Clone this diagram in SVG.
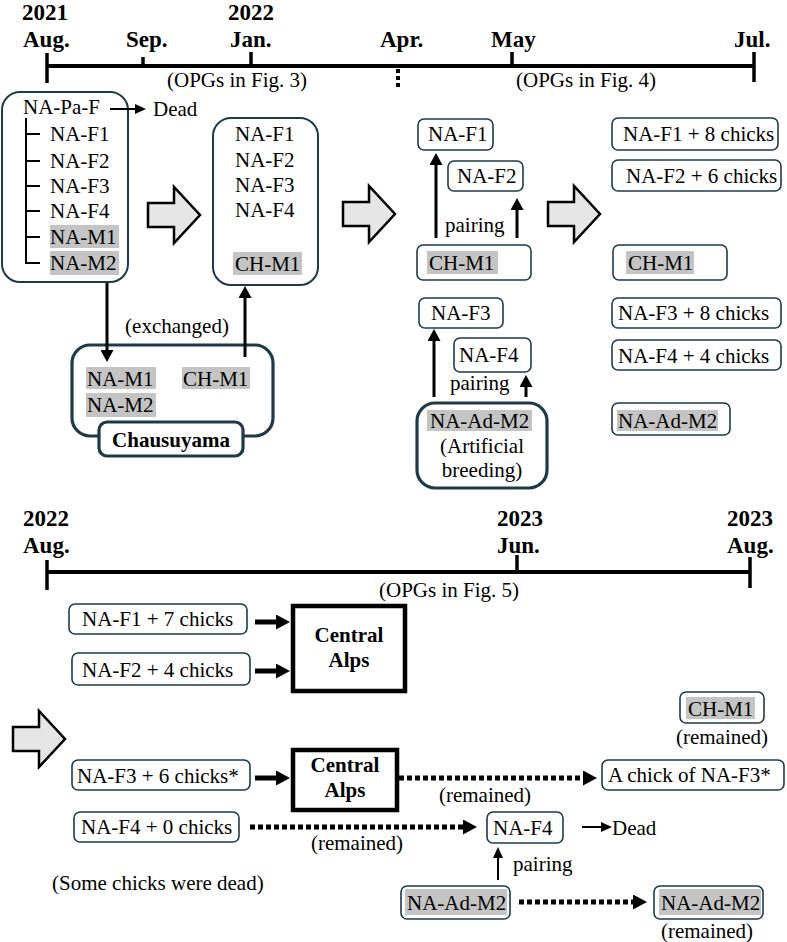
<svg xmlns="http://www.w3.org/2000/svg" width="787" height="942" viewBox="0 0 787 942" font-family="Liberation Serif, DejaVu Serif, serif">
<style>
text{font-family:'Liberation Serif','DejaVu Serif',serif}
.t{font-size:21px;fill:#000}
.b{font-weight:bold;font-size:23px;fill:#000}
.bb{font-weight:bold;font-size:21px;fill:#000}
.box{fill:#fff;stroke:#1e3a4a;stroke-width:1.6}
.big{fill:#fff;stroke:#1e3a4a;stroke-width:2}
.thick{fill:#fff;stroke:#1e3a4a;stroke-width:3.2}
.alps{fill:#fff;stroke:#000;stroke-width:4.5}
.hl{fill:#c4c4c4}
.tl{stroke:#000;stroke-width:4;fill:none}
.tk{stroke:#000;stroke-width:3.5;fill:none}
.c1{stroke:#000;stroke-width:2;fill:none}
.c2{stroke:#000;stroke-width:3;fill:none}
.c3{stroke:#000;stroke-width:5;fill:none}
.dot{stroke:#000;stroke-width:5;fill:none;stroke-dasharray:5 3}
.ba{fill:#e6e6e6;stroke:#000;stroke-width:2.5;stroke-linejoin:miter}
</style>
<defs>
<marker id="m1" markerUnits="userSpaceOnUse" markerWidth="11" markerHeight="11" viewBox="0 0 11 11" refX="2" refY="5.5" orient="auto"><path d="M0,0.5 L11,5.5 L0,10.5 Z" fill="#000"/></marker>
<marker id="m2" markerUnits="userSpaceOnUse" markerWidth="12" markerHeight="13" viewBox="0 0 12 13" refX="2" refY="6.5" orient="auto"><path d="M0,0 L12,6.5 L0,13 Z" fill="#000"/></marker>
<marker id="m3" markerUnits="userSpaceOnUse" markerWidth="14" markerHeight="15" viewBox="0 0 14 15" refX="2" refY="7.5" orient="auto"><path d="M0,0 L14,7.5 L0,15 Z" fill="#000"/></marker>
<path id="bigarrow" d="M0,16 H26 V0 L52,28 L26,56 V40 H0 Z"/>
</defs>

<g id="timeline-top">
<line class="tl" x1="47" y1="66" x2="754" y2="66"/>
<line class="tk" x1="47" y1="53" x2="47" y2="83"/>
<line class="tk" x1="143" y1="57" x2="143" y2="66"/>
<line class="tk" x1="251" y1="52" x2="251" y2="66"/>
<line class="tk" x1="512" y1="52" x2="512" y2="66"/>
<line class="tk" x1="754" y1="52" x2="754" y2="82"/>
<line x1="398" y1="69" x2="398" y2="88" stroke="#000" stroke-width="4" stroke-dasharray="4 3"/>
<text class="b" x="22" y="20">2021</text>
<text class="b" x="23" y="47">Aug.</text>
<text class="b" x="126" y="47">Sep.</text>
<text class="b" x="228" y="20">2022</text>
<text class="b" x="230" y="47">Jan.</text>
<text class="b" x="380" y="47">Apr.</text>
<text class="b" x="491" y="47">May</text>
<text class="b" x="734" y="47">Jul.</text>
<text class="t" x="237" y="87" text-anchor="middle">(OPGs in Fig. 3)</text>
<text class="t" x="586" y="87" text-anchor="middle">(OPGs in Fig. 4)</text>
</g>

<g id="box-founders">
<rect class="big" x="2" y="92" width="126" height="190" rx="18"/>
<text class="t" x="23" y="114">NA-Pa-F</text>
<path class="c1" d="M26,118 V263 H40 M26,134 H40 M26,161 H40 M26,186 H40 M26,211 H40 M26,237 H40"/>
<rect class="hl" x="50" y="225" width="69" height="23"/>
<rect class="hl" x="50" y="251" width="69" height="24"/>
<text class="t" x="50" y="141">NA-F1</text>
<text class="t" x="50" y="168">NA-F2</text>
<text class="t" x="50" y="193">NA-F3</text>
<text class="t" x="50" y="218">NA-F4</text>
<text class="t" x="50" y="244">NA-M1</text>
<text class="t" x="50" y="270">NA-M2</text>
</g>
<g id="dead-1"><text class="t" x="153" y="116">Dead</text></g>

<g id="box-jan">
<rect class="big" x="213" y="118" width="105" height="167" rx="18"/>
<rect class="hl" x="233" y="252" width="69" height="23"/>
<text class="t" x="235" y="141">NA-F1</text>
<text class="t" x="235" y="167">NA-F2</text>
<text class="t" x="235" y="192">NA-F3</text>
<text class="t" x="235" y="217">NA-F4</text>
<text class="t" x="235" y="271">CH-M1</text>
</g>

<g id="chausuyama">
<rect class="thick" x="72" y="345" width="201" height="91" rx="18"/>
<rect class="hl" x="86" y="367" width="70" height="22"/>
<rect class="hl" x="86" y="393" width="70" height="24"/>
<rect class="hl" x="182" y="367" width="68" height="22"/>
<text class="t" x="87" y="386">NA-M1</text>
<text class="t" x="87" y="412">NA-M2</text>
<text class="t" x="183" y="386">CH-M1</text>
<rect class="thick" x="99" y="422" width="144" height="34" rx="8"/>
<text class="bb" x="171" y="447" text-anchor="middle">Chausuyama</text>
</g>
<g id="lbl-exchanged"><text class="t" x="177" y="333" text-anchor="middle">(exchanged)</text></g>

<g id="mid-naf1"><rect class="box" x="418" y="119" width="75" height="31" rx="6"/><text class="t" x="428" y="141">NA-F1</text></g>
<g id="mid-naf2"><rect class="box" x="448" y="161" width="75" height="30" rx="6"/><text class="t" x="457" y="183">NA-F2</text></g>
<g id="mid-chm1"><rect class="box" x="417" y="245" width="114" height="35" rx="6"/><rect class="hl" x="427" y="251" width="71" height="23"/><text class="t" x="429" y="270">CH-M1</text></g>
<g id="lbl-pairing-1"><text class="t" x="445" y="232">pairing</text></g>
<g id="mid-naf3"><rect class="box" x="419" y="298" width="84" height="30" rx="6"/><text class="t" x="431" y="320">NA-F3</text></g>
<g id="mid-naf4"><rect class="box" x="454" y="338" width="77" height="34" rx="6"/><text class="t" x="459" y="362">NA-F4</text></g>
<g id="lbl-pairing-2"><text class="t" x="450" y="390">pairing</text></g>
<g id="mid-naadm2">
<rect class="thick" x="417" y="403" width="130" height="85" rx="18"/>
<rect class="hl" x="427" y="410" width="105" height="21"/>
<text class="t" x="430" y="428">NA-Ad-M2</text>
<text class="t" x="482" y="453" text-anchor="middle">(Artificial</text>
<text class="t" x="482" y="477" text-anchor="middle">breeding)</text>
</g>

<g id="r-naf1"><rect class="box" x="612" y="118" width="166" height="32" rx="6"/><text class="t" x="623" y="141">NA-F1 + 8 chicks</text></g>
<g id="r-naf2"><rect class="box" x="612" y="160" width="169" height="31" rx="6"/><text class="t" x="626" y="183">NA-F2 + 6 chicks</text></g>
<g id="r-chm1"><rect class="box" x="613" y="245" width="114" height="35" rx="6"/><rect class="hl" x="626" y="251" width="68" height="23"/><text class="t" x="628" y="270">CH-M1</text></g>
<g id="r-naf3"><rect class="box" x="612" y="298" width="169" height="30" rx="6"/><text class="t" x="618" y="320">NA-F3 + 8 chicks</text></g>
<g id="r-naf4"><rect class="box" x="612" y="340" width="169" height="30" rx="6"/><text class="t" x="618" y="363">NA-F4 + 4 chicks</text></g>
<g id="r-naadm2"><rect class="box" x="612" y="403" width="118" height="32" rx="6"/><rect class="hl" x="617" y="410" width="101" height="21"/><text class="t" x="618" y="428">NA-Ad-M2</text></g>

<g id="timeline-bottom">
<line class="tl" x1="47" y1="572" x2="750" y2="572"/>
<line class="tk" x1="47" y1="560" x2="47" y2="590"/>
<line class="tk" x1="517" y1="555" x2="517" y2="572"/>
<line class="tk" x1="750" y1="557" x2="750" y2="588"/>
<text class="b" x="23" y="526">2022</text>
<text class="b" x="23" y="553">Aug.</text>
<text class="b" x="497" y="526">2023</text>
<text class="b" x="497" y="553">Jun.</text>
<text class="b" x="727" y="526">2023</text>
<text class="b" x="727" y="553">Aug.</text>
<text class="t" x="449" y="597" text-anchor="middle">(OPGs in Fig. 5)</text>
</g>

<g id="b-naf1"><rect class="box" x="69" y="604" width="178" height="30" rx="6"/><text class="t" x="82" y="626">NA-F1 + 7 chicks</text></g>
<g id="b-naf2"><rect class="box" x="72" y="653" width="178" height="32" rx="6"/><text class="t" x="82" y="677">NA-F2 + 4 chicks</text></g>
<g id="alps-1"><rect class="alps" x="293" y="606" width="112" height="85"/><text class="bb" x="349" y="642" text-anchor="middle">Central</text><text class="bb" x="349" y="667" text-anchor="middle">Alps</text></g>
<g id="b-chm1"><rect class="box" x="680" y="692" width="84" height="31" rx="6"/><rect class="hl" x="686" y="697" width="69" height="22"/><text class="t" x="688" y="716">CH-M1</text><text class="t" x="722" y="744" text-anchor="middle">(remained)</text></g>
<g id="b-naf3"><rect class="box" x="72" y="760" width="178" height="30" rx="6"/><text class="t" x="77" y="783">NA-F3 + 6 chicks*</text></g>
<g id="alps-2"><rect class="alps" x="293" y="750" width="104" height="60"/><text class="bb" x="345" y="772" text-anchor="middle">Central</text><text class="bb" x="345" y="797" text-anchor="middle">Alps</text></g>
<g id="b-chick"><rect class="box" x="602" y="760" width="182" height="30" rx="6"/><text class="t" x="608" y="782">A chick of NA-F3*</text></g>
<g id="b-naf4"><rect class="box" x="74" y="812" width="165" height="30" rx="6"/><text class="t" x="81" y="834">NA-F4 + 0 chicks</text></g>
<g id="b-naf4-2"><rect class="box" x="487" y="812" width="76" height="31" rx="6"/><text class="t" x="493" y="835">NA-F4</text></g>
<g id="dead-2"><text class="t" x="612" y="835">Dead</text></g>
<g id="lbl-pairing-3"><text class="t" x="513" y="871">pairing</text></g>
<g id="lbl-dead-chicks"><text class="t" x="52" y="890">(Some chicks were dead)</text></g>
<g id="b-naadm2"><rect class="box" x="401" y="886" width="109" height="33" rx="6"/><rect class="hl" x="405" y="889" width="102" height="26"/><text class="t" x="407" y="910">NA-Ad-M2</text></g>
<g id="b-naadm2-2"><rect class="box" x="654" y="886" width="109" height="33" rx="6"/><rect class="hl" x="659" y="889" width="102" height="26"/><text class="t" x="661" y="910">NA-Ad-M2</text><text class="t" x="707" y="938" text-anchor="middle">(remained)</text></g>
<g id="lbls-remained"><text class="t" x="485" y="802" text-anchor="middle">(remained)</text><text class="t" x="357" y="850" text-anchor="middle">(remained)</text></g>

<g id="block-arrows">
<use href="#bigarrow" class="ba" transform="translate(148,187)"/>
<use href="#bigarrow" class="ba" transform="translate(343,186)"/>
<use href="#bigarrow" class="ba" transform="translate(548,186)"/>
<use href="#bigarrow" class="ba" transform="translate(13,711)"/>
</g>

<g id="connectors">
<path class="c1" d="M110,109 H137" marker-end="url(#m1)"/>
<path class="c2" d="M107,283 V352" marker-end="url(#m2)"/>
<path class="c2" d="M245,357 V296" marker-end="url(#m2)"/>
<path class="c2" d="M436,238 V163" marker-end="url(#m2)"/>
<path class="c2" d="M517,238 V208" marker-end="url(#m2)"/>
<path class="c2" d="M434,397 V339" marker-end="url(#m2)"/>
<path class="c2" d="M526,397 V385" marker-end="url(#m2)"/>
<path class="c3" d="M255,622 H278" marker-end="url(#m3)"/>
<path class="c3" d="M255,671 H278" marker-end="url(#m3)"/>
<path class="c3" d="M255,778 H278" marker-end="url(#m3)"/>
<path class="dot" d="M399,778 H585" marker-end="url(#m3)"/>
<path class="dot" d="M250,827 H465" marker-end="url(#m3)"/>
<path class="dot" d="M519,902 H635" marker-end="url(#m3)"/>
<path class="c1" d="M582,827 H603" marker-end="url(#m1)"/>
<path class="c1" d="M498,880 V856" marker-end="url(#m1)"/>
</g>
</svg>
